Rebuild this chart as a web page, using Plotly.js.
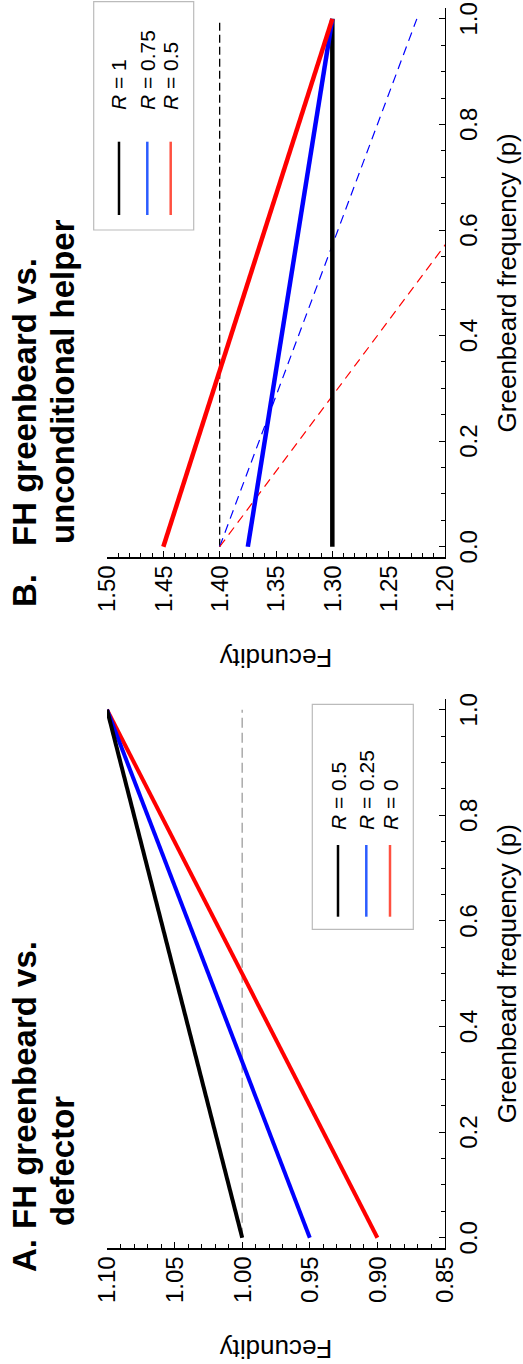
<!DOCTYPE html>
<html>
<head>
<meta charset="utf-8">
<script src="https://cdn.plot.ly/plotly-3.0.1.min.js"></script>
<style>
  html, body { margin: 0; padding: 0; background: #ffffff; overflow: hidden; }
  #wrap { position: absolute; left: 0; top: 0; width: 523px; height: 1364px; overflow: hidden; }
  #plot { position: absolute; left: 0; top: 0; width: 1364px; height: 523px;
          transform-origin: 0 0; transform: translateY(1364px) rotate(-90deg); }
</style>
</head>
<body>
<div id="wrap"><div id="plot"></div></div>
<script>
// ---------- data ----------
const pValues = [0, 1];                      // greenbeard frequency endpoints
// Panel A: FH greenbeard vs. defector
const aLabels = ["R = 0.5", "R = 0.25", "R = 0"];
const aBlack = [1.00, 1.10];
const aBlue  = [0.95, 1.10];
const aRed   = [0.90, 1.10];
const aNeutral = [1.00, 1.00];
// Panel B: FH greenbeard vs. unconditional helper
const bLabels = ["R = 1", "R = 0.75", "R = 0.5"];
const bBlack = [1.30, 1.30];
const bBlue  = [1.375, 1.30];
const bRed   = [1.45, 1.30];
const bNeutral = [1.40, 1.40];
const bBlueDash = [1.40, 1.225];
const bRedDash  = [1.40, 1.05];
const xTicks = [0, 0.2, 0.4, 0.6, 0.8, 1.0];

// ---------- geometry (unrotated figure) ----------
const W = 1364, H = 523, T = 107, B = 78, PH = H - T - B;
const fx = X => X / W;
const fy = Y => (H - B - Y) / PH;
const FONT = "Liberation Sans, Arial, Helvetica, sans-serif";

function line(x, y, xa, ya, color, width, dash) {
  return { x: x, y: y, xaxis: xa, yaxis: ya, type: "scatter", mode: "lines",
           line: { color: color, width: width, dash: dash || "solid" },
           hoverinfo: "skip", showlegend: false };
}

const data = [
  line(pValues, aNeutral, "x", "y", "#aaaaaa", 1.5, "10px,5px"),
  line(pValues, aRed, "x", "y", "#ff0000", 4),
  line(pValues, aBlue, "x", "y", "#0000ff", 4),
  line(pValues, aBlack, "x", "y", "#000000", 4),
  line(pValues, bNeutral, "x2", "y2", "#000000", 1.3, "8px,4px"),
  line(pValues, bBlueDash, "x2", "y2", "#0000ff", 1.2, "9px,6px"),
  line(pValues, bRedDash, "x2", "y2", "#ff0000", 1.2, "9px,6px"),
  line(pValues, bBlack, "x2", "y2", "#000000", 4.5),
  line(pValues, bBlue, "x2", "y2", "#0000ff", 4.5),
  line(pValues, bRed, "x2", "y2", "#ff0000", 4.5)
];

function xAxis(domain, anchor) {
  return {
    domain: domain, anchor: anchor, range: [-0.02, 1.02],
    tickvals: xTicks, tickformat: ".1f",
    ticks: "inside", ticklen: 6, tickwidth: 1, tickcolor: "#000",
    minor: { dtick: 0.05, tick0: 0, ticks: "inside", ticklen: 4, tickwidth: 1, tickcolor: "#000", showgrid: false },
    showline: true, linecolor: "#000", linewidth: 1.2,
    showgrid: false, zeroline: false,
    tickfont: { family: FONT, size: 24, color: "#000" },
    ticklabelstandoff: 2,
    title: { text: "Greenbeard frequency (p)", font: { family: FONT, size: 26, color: "#000" }, standoff: 16 }
  };
}
function yAxis(range, anchor) {
  return {
    anchor: anchor, range: range, dtick: 0.05, tick0: 0, tickformat: ".2f",
    ticks: "inside", ticklen: 6, tickwidth: 1, tickcolor: "#000",
    minor: { dtick: 0.01, tick0: 0, ticks: "inside", ticklen: 4, tickwidth: 1, tickcolor: "#000", showgrid: false },
    showline: true, linecolor: "#000", linewidth: 1.2,
    showgrid: false, zeroline: false,
    tickfont: { family: FONT, size: 24, color: "#000" },
    ticklabelstandoff: 2,
    title: { text: "Fecundity", font: { family: FONT, size: 26, color: "#000" }, standoff: 28 }
  };
}

const annotations = [];
const shapes = [];
function txt(X, Y, text, size, xanchor, yanchor) {
  annotations.push({ xref: "paper", yref: "paper", x: fx(X), y: fy(Y), text: text,
    showarrow: false, xanchor: xanchor || "left", yanchor: yanchor || "middle", align: "left",
    font: { family: FONT, size: size, color: "#000" } });
}
function legend(box, lineX, lineYs, textX, labels, colors) {
  shapes.push({ type: "rect", xref: "paper", yref: "paper", x0: fx(box[0]), x1: fx(box[1]),
    y0: fy(box[2]), y1: fy(box[3]), line: { color: "#bbbbbb", width: 1.2 }, fillcolor: "rgba(0,0,0,0)" });
  labels.forEach((lab, i) => {
    shapes.push({ type: "line", xref: "paper", yref: "paper", x0: fx(lineX[0]), x1: fx(lineX[1]),
      y0: fy(lineYs[i]), y1: fy(lineYs[i]), line: { color: colors[i], width: 2.5 } });
    txt(textX, lineYs[i], lab.replace(/^R/, "<i>R</i>"), 21);
  });
}
const legendColors = ["#000000", "#2b5cff", "#ff5040"];
legend([434.7, 659.7, 312.3, 413.3], [447.3, 519], [338, 366.3, 390], 532, aLabels, legendColors);
legend([1134, 1362.3, 93.7, 193.7], [1149, 1222.3], [119, 147.3, 170.7], 1252, bLabels, legendColors);

// panel titles (one annotation per line)
txt(90, 24.5, "<b>A.</b>", 33);
txt(133, 24.5, "<b>FH greenbeard vs.</b>", 33);
txt(136, 62.8, "<b>defector</b>", 33);
txt(755, 24.5, "<b>B.</b>", 33);
txt(816, 24.5, "<b>FH greenbeard vs.</b>", 33);
txt(818, 62.8, "<b>unconditional helper</b>", 33);

const layout = {
  width: W, height: H,
  margin: { l: 0, r: 0, t: T, b: B, pad: 0 },
  paper_bgcolor: "#ffffff", plot_bgcolor: "#ffffff",
  showlegend: false,
  font: { family: FONT, color: "#000" },
  xaxis: xAxis([115.7 / W, 664.8 / W], "y"),
  yaxis: yAxis([0.85, 1.10], "x"),
  xaxis2: xAxis([806.7 / W, 1355.7 / W], "y2"),
  yaxis2: yAxis([1.20, 1.50], "x2"),
  annotations: annotations,
  shapes: shapes
};

Plotly.newPlot("plot", data, layout, { staticPlot: true, responsive: false, displayModeBar: false });
</script>
</body>
</html>
